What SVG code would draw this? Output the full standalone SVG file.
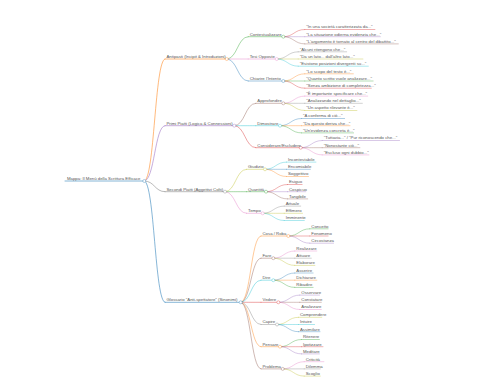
<svg xmlns="http://www.w3.org/2000/svg" width="480" height="384" viewBox="0 0 480 384">
<style>
text{font-family:"Liberation Sans",Arial,sans-serif;font-size:4.3px;fill:#555}
path,line{fill:none;stroke-linecap:round;stroke-opacity:0.6}
circle{fill:#fff;stroke-width:0.5;stroke-opacity:0.7}
.w1{stroke-width:0.9}.w2{stroke-width:0.7}.w3{stroke-width:0.6}
.k0{stroke:#1f77b4}.k1{stroke:#ff7f0e}.k2{stroke:#2ca02c}.k3{stroke:#d62728}.k4{stroke:#9467bd}
.k5{stroke:#8c564b}.k6{stroke:#e377c2}.k7{stroke:#7f7f7f}.k8{stroke:#bcbd22}.k9{stroke:#17becf}
</style>
<rect width="480" height="384" fill="#fff"/>
<g id="connectors">
<path class="k1 w1" d="M144.3 181C154.65 181 154.65 59 165 59"/>
<path class="k4 w1" d="M144.3 181C154.65 181 154.65 125.7 165 125.7"/>
<path class="k7 w1" d="M144.3 181C154.65 181 154.65 191.7 165 191.7"/>
<path class="k0 w1" d="M144.3 181C154.65 181 154.65 302.3 165 302.3"/>
<path class="k2 w2" d="M226.7 59C237.45 59 237.45 36.7 248.2 36.7"/>
<path class="k6 w2" d="M226.7 59C237.45 59 237.45 59 248.2 59"/>
<path class="k0 w2" d="M226.7 59C237.45 59 237.45 81 248.2 81"/>
<path class="k3 w3" d="M283.3 36.7C294.05 36.7 294.05 29.5 304.8 29.5"/>
<path class="k4 w3" d="M283.3 36.7C294.05 36.7 294.05 36.7 304.8 36.7"/>
<path class="k5 w3" d="M283.3 36.7C294.05 36.7 294.05 43.9 304.8 43.9"/>
<path class="k7 w3" d="M276.7 59C287.45 59 287.45 51.8 298.2 51.8"/>
<path class="k8 w3" d="M276.7 59C287.45 59 287.45 59 298.2 59"/>
<path class="k9 w3" d="M276.7 59C287.45 59 287.45 66.2 298.2 66.2"/>
<path class="k1 w3" d="M283.3 81C294.05 81 294.05 73.8 304.8 73.8"/>
<path class="k2 w3" d="M283.3 81C294.05 81 294.05 81 304.8 81"/>
<path class="k3 w3" d="M283.3 81C294.05 81 294.05 88.2 304.8 88.2"/>
<path class="k5 w2" d="M234.3 125.7C245.05 125.7 245.05 103.3 255.8 103.3"/>
<path class="k9 w2" d="M234.3 125.7C245.05 125.7 245.05 125.7 255.8 125.7"/>
<path class="k3 w2" d="M234.3 125.7C245.05 125.7 245.05 147.7 255.8 147.7"/>
<path class="k6 w3" d="M283.3 103.3C294.05 103.3 294.05 96.1 304.8 96.1"/>
<path class="k7 w3" d="M283.3 103.3C294.05 103.3 294.05 103.3 304.8 103.3"/>
<path class="k8 w3" d="M283.3 103.3C294.05 103.3 294.05 110.5 304.8 110.5"/>
<path class="k0 w3" d="M280 125.7C290.75 125.7 290.75 118.5 301.5 118.5"/>
<path class="k1 w3" d="M280 125.7C290.75 125.7 290.75 125.7 301.5 125.7"/>
<path class="k2 w3" d="M280 125.7C290.75 125.7 290.75 132.9 301.5 132.9"/>
<path class="k4 w3" d="M300.7 147.7C311.45 147.7 311.45 140.5 322.2 140.5"/>
<path class="k5 w3" d="M300.7 147.7C311.45 147.7 311.45 147.7 322.2 147.7"/>
<path class="k6 w3" d="M300.7 147.7C311.45 147.7 311.45 154.9 322.2 154.9"/>
<path class="k8 w2" d="M225 191.7C235.75 191.7 235.75 169.3 246.5 169.3"/>
<path class="k2 w2" d="M225 191.7C235.75 191.7 235.75 191.7 246.5 191.7"/>
<path class="k6 w2" d="M225 191.7C235.75 191.7 235.75 213.3 246.5 213.3"/>
<path class="k9 w3" d="M265 169.3C275.75 169.3 275.75 162.1 286.5 162.1"/>
<path class="k0 w3" d="M265 169.3C275.75 169.3 275.75 169.3 286.5 169.3"/>
<path class="k1 w3" d="M265 169.3C275.75 169.3 275.75 176.5 286.5 176.5"/>
<path class="k3 w3" d="M266 191.7C276.75 191.7 276.75 184.5 287.5 184.5"/>
<path class="k4 w3" d="M266 191.7C276.75 191.7 276.75 191.7 287.5 191.7"/>
<path class="k5 w3" d="M266 191.7C276.75 191.7 276.75 198.9 287.5 198.9"/>
<path class="k7 w3" d="M262.7 213.3C273.45 213.3 273.45 206.1 284.2 206.1"/>
<path class="k8 w3" d="M262.7 213.3C273.45 213.3 273.45 213.3 284.2 213.3"/>
<path class="k9 w3" d="M262.7 213.3C273.45 213.3 273.45 220.5 284.2 220.5"/>
<path class="k1 w2" d="M240.7 302.3C250.85 302.3 250.85 236 261 236"/>
<path class="k5 w2" d="M240.7 302.3C250.85 302.3 250.85 258.2 261 258.2"/>
<path class="k9 w2" d="M240.7 302.3C250.85 302.3 250.85 280.2 261 280.2"/>
<path class="k3 w2" d="M240.7 302.3C250.85 302.3 250.85 302.3 261 302.3"/>
<path class="k7 w2" d="M240.7 302.3C250.85 302.3 250.85 324.5 261 324.5"/>
<path class="k1 w2" d="M240.7 302.3C250.85 302.3 250.85 346.7 261 346.7"/>
<path class="k5 w2" d="M240.7 302.3C250.85 302.3 250.85 368.9 261 368.9"/>
<path class="k2 w3" d="M288.3 236C299.05 236 299.05 228.8 309.8 228.8"/>
<path class="k3 w3" d="M288.3 236C299.05 236 299.05 236 309.8 236"/>
<path class="k4 w3" d="M288.3 236C299.05 236 299.05 243.2 309.8 243.2"/>
<path class="k6 w3" d="M273.3 258.2C284.05 258.2 284.05 251 294.8 251"/>
<path class="k7 w3" d="M273.3 258.2C284.05 258.2 284.05 258.2 294.8 258.2"/>
<path class="k8 w3" d="M273.3 258.2C284.05 258.2 284.05 265.4 294.8 265.4"/>
<path class="k0 w3" d="M273.3 280.2C284.05 280.2 284.05 273 294.8 273"/>
<path class="k1 w3" d="M273.3 280.2C284.05 280.2 284.05 280.2 294.8 280.2"/>
<path class="k2 w3" d="M273.3 280.2C284.05 280.2 284.05 287.4 294.8 287.4"/>
<path class="k4 w3" d="M278.3 302.3C289.05 302.3 289.05 295.1 299.8 295.1"/>
<path class="k5 w3" d="M278.3 302.3C289.05 302.3 289.05 302.3 299.8 302.3"/>
<path class="k6 w3" d="M278.3 302.3C289.05 302.3 289.05 309.5 299.8 309.5"/>
<path class="k8 w3" d="M277 324.5C287.75 324.5 287.75 317.3 298.5 317.3"/>
<path class="k9 w3" d="M277 324.5C287.75 324.5 287.75 324.5 298.5 324.5"/>
<path class="k0 w3" d="M277 324.5C287.75 324.5 287.75 331.7 298.5 331.7"/>
<path class="k2 w3" d="M280 346.7C290.75 346.7 290.75 339.5 301.5 339.5"/>
<path class="k3 w3" d="M280 346.7C290.75 346.7 290.75 346.7 301.5 346.7"/>
<path class="k4 w3" d="M280 346.7C290.75 346.7 290.75 353.9 301.5 353.9"/>
<path class="k6 w3" d="M282.7 368.9C293.45 368.9 293.45 361.7 304.2 361.7"/>
<path class="k7 w3" d="M282.7 368.9C293.45 368.9 293.45 368.9 304.2 368.9"/>
<path class="k8 w3" d="M282.7 368.9C293.45 368.9 293.45 376.1 304.2 376.1"/>
</g>
<g id="root"><line class="k0 w1" x1="65" y1="181" x2="144.3" y2="181"/><circle class="k0" cx="144.3" cy="181" r="1.5"/><text x="67" y="179.9">Mappa: Il Menù della Scrittura Efficace</text></g>
<g id="antipasti"><line class="k1 w1" x1="165" y1="59" x2="226.7" y2="59"/><circle class="k1" cx="226.7" cy="59" r="1.5"/><text x="166.5" y="57.9">Antipasti (Incipit &amp; Introduzioni)</text></g>
<g id="contestualizzare"><line class="k2 w2" x1="248.2" y1="36.7" x2="283.3" y2="36.7"/><circle class="k2" cx="283.3" cy="36.7" r="1.5"/><text x="249.7" y="35.6">Contestualizzare</text></g>
<g id="c-l1"><line class="k3 w3" x1="304.8" y1="29.5" x2="374.9" y2="29.5"/><text x="306.3" y="28.4">"In una società caratterizzata da..."</text></g>
<g id="c-l2"><line class="k4 w3" x1="304.8" y1="36.7" x2="380.3" y2="36.7"/><text x="306.3" y="35.6">"La situazione odierna evidenzia che..."</text></g>
<g id="c-l3"><line class="k5 w3" x1="304.8" y1="43.9" x2="398.3" y2="43.9"/><text x="306.3" y="42.8">"L'argomento è tornato al centro del dibattito..."</text></g>
<g id="tesi"><line class="k6 w2" x1="248.2" y1="59" x2="276.7" y2="59"/><circle class="k6" cx="276.7" cy="59" r="1.5"/><text x="249.7" y="57.9">Tesi Opposte</text></g>
<g id="t-l1"><line class="k7 w3" x1="298.2" y1="51.8" x2="346.7" y2="51.8"/><text x="299.7" y="50.7">"Alcuni ritengono che..."</text></g>
<g id="t-l2"><line class="k8 w3" x1="298.2" y1="59" x2="362.9" y2="59"/><text x="299.7" y="57.9">"Da un lato... dall'altro lato..."</text></g>
<g id="t-l3"><line class="k9 w3" x1="298.2" y1="66.2" x2="368.3" y2="66.2"/><text x="299.7" y="65.1">"Esistono posizioni divergenti su..."</text></g>
<g id="chiarire"><line class="k0 w2" x1="248.2" y1="81" x2="283.3" y2="81"/><circle class="k0" cx="283.3" cy="81" r="1.5"/><text x="249.7" y="79.9">Chiarire l'Intento</text></g>
<g id="ch-l1"><line class="k1 w3" x1="304.8" y1="73.8" x2="353.3" y2="73.8"/><text x="306.3" y="72.7">"Lo scopo del testo è..."</text></g>
<g id="ch-l2"><line class="k2 w3" x1="304.8" y1="81" x2="373.1" y2="81"/><text x="306.3" y="79.9">"Quanto scritto vuole analizzare..."</text></g>
<g id="ch-l3"><line class="k3 w3" x1="304.8" y1="88.2" x2="371.3" y2="88.2"/><text x="306.3" y="87.1">"Senza ambizione di completezza..."</text></g>
<g id="primi"><line class="k4 w1" x1="165" y1="125.7" x2="234.3" y2="125.7"/><circle class="k4" cx="234.3" cy="125.7" r="1.5"/><text x="166.5" y="124.6">Primi Piatti (Logica &amp; Connessioni)</text></g>
<g id="approfondire"><line class="k5 w2" x1="255.8" y1="103.3" x2="283.3" y2="103.3"/><circle class="k5" cx="283.3" cy="103.3" r="1.5"/><text x="257.3" y="102.2">Approfondire</text></g>
<g id="ap-l1"><line class="k6 w3" x1="304.8" y1="96.1" x2="367.7" y2="96.1"/><text x="306.3" y="95">"È importante specificare che..."</text></g>
<g id="ap-l2"><line class="k7 w3" x1="304.8" y1="103.3" x2="362.3" y2="103.3"/><text x="306.3" y="102.2">"Analizzando nel dettaglio..."</text></g>
<g id="ap-l3"><line class="k8 w3" x1="304.8" y1="110.5" x2="356.9" y2="110.5"/><text x="306.3" y="109.4">"Un aspetto rilevante è..."</text></g>
<g id="dimostrare"><line class="k9 w2" x1="255.8" y1="125.7" x2="280" y2="125.7"/><circle class="k9" cx="280" cy="125.7" r="1.5"/><text x="257.3" y="124.6">Dimostrare</text></g>
<g id="di-l1"><line class="k0 w3" x1="301.5" y1="118.5" x2="344.6" y2="118.5"/><text x="303" y="117.4">"A conferma di ciò..."</text></g>
<g id="di-l2"><line class="k1 w3" x1="301.5" y1="125.7" x2="350" y2="125.7"/><text x="303" y="124.6">"Da questo deriva che..."</text></g>
<g id="di-l3"><line class="k2 w3" x1="301.5" y1="132.9" x2="353.6" y2="132.9"/><text x="303" y="131.8">"Un'evidenza concreta è..."</text></g>
<g id="considerare"><line class="k3 w2" x1="255.8" y1="147.7" x2="300.7" y2="147.7"/><circle class="k3" cx="300.7" cy="147.7" r="1.5"/><text x="257.3" y="146.6">Considerare/Escludere</text></g>
<g id="co-l1"><line class="k4 w3" x1="322.2" y1="140.5" x2="399.5" y2="140.5"/><text x="323.7" y="139.4">"Tuttavia..." / "Pur riconoscendo che..."</text></g>
<g id="co-l2"><line class="k5 w3" x1="322.2" y1="147.7" x2="359.9" y2="147.7"/><text x="323.7" y="146.6">"Nonostante ciò..."</text></g>
<g id="co-l3"><line class="k6 w3" x1="322.2" y1="154.9" x2="368.9" y2="154.9"/><text x="323.7" y="153.8">"Escluso ogni dubbio..."</text></g>
<g id="secondi"><line class="k7 w1" x1="165" y1="191.7" x2="225" y2="191.7"/><circle class="k7" cx="225" cy="191.7" r="1.5"/><text x="166.5" y="190.6">Secondi Piatti (Aggettivi Colti)</text></g>
<g id="giudizio"><line class="k8 w2" x1="246.5" y1="169.3" x2="265" y2="169.3"/><circle class="k8" cx="265" cy="169.3" r="1.5"/><text x="248" y="168.2">Giudizio</text></g>
<g id="g-l1"><line class="k9 w3" x1="286.5" y1="162.1" x2="315.9" y2="162.1"/><text x="288" y="161">Incontestabile</text></g>
<g id="g-l2"><line class="k0 w3" x1="286.5" y1="169.3" x2="310.4" y2="169.3"/><text x="288" y="168.2">Encomiabile</text></g>
<g id="g-l3"><line class="k1 w3" x1="286.5" y1="176.5" x2="308.5" y2="176.5"/><text x="288" y="175.4">Soggettivo</text></g>
<g id="quantita"><line class="k2 w2" x1="246.5" y1="191.7" x2="266" y2="191.7"/><circle class="k2" cx="266" cy="191.7" r="1.5"/><text x="248" y="190.6">Quantità</text></g>
<g id="q-l1"><line class="k3 w3" x1="287.5" y1="184.5" x2="302.1" y2="184.5"/><text x="289" y="183.4">Esiguo</text></g>
<g id="q-l2"><line class="k4 w3" x1="287.5" y1="191.7" x2="305.8" y2="191.7"/><text x="289" y="190.6">Cospicuo</text></g>
<g id="q-l3"><line class="k5 w3" x1="287.5" y1="198.9" x2="307.7" y2="198.9"/><text x="289" y="197.8">Tangibile</text></g>
<g id="tempo"><line class="k6 w2" x1="246.5" y1="213.3" x2="262.7" y2="213.3"/><circle class="k6" cx="262.7" cy="213.3" r="1.5"/><text x="248" y="212.2">Tempo</text></g>
<g id="te-l1"><line class="k7 w3" x1="284.2" y1="206.1" x2="300.7" y2="206.1"/><text x="285.7" y="205">Attuale</text></g>
<g id="te-l2"><line class="k8 w3" x1="284.2" y1="213.3" x2="302.5" y2="213.3"/><text x="285.7" y="212.2">Effimero</text></g>
<g id="te-l3"><line class="k9 w3" x1="284.2" y1="220.5" x2="304.3" y2="220.5"/><text x="285.7" y="219.4">Imminente</text></g>
<g id="glossario"><line class="k0 w1" x1="165" y1="302.3" x2="240.7" y2="302.3"/><circle class="k0" cx="240.7" cy="302.3" r="1.5"/><text x="166.5" y="301.2">Glossario "Anti-spettatore" (Sinonimi)</text></g>
<g id="cosa"><line class="k1 w2" x1="261" y1="236" x2="288.3" y2="236"/><circle class="k1" cx="288.3" cy="236" r="1.5"/><text x="262.5" y="234.9">Cosa / Roba</text></g>
<g id="cs-l1"><line class="k2 w3" x1="309.8" y1="228.8" x2="328.1" y2="228.8"/><text x="311.3" y="227.7">Concetto</text></g>
<g id="cs-l2"><line class="k3 w3" x1="309.8" y1="236" x2="328.1" y2="236"/><text x="311.3" y="234.9">Fenomeno</text></g>
<g id="cs-l3"><line class="k4 w3" x1="309.8" y1="243.2" x2="333.6" y2="243.2"/><text x="311.3" y="242.1">Circostanza</text></g>
<g id="fare"><line class="k5 w2" x1="261" y1="258.2" x2="273.3" y2="258.2"/><circle class="k5" cx="273.3" cy="258.2" r="1.5"/><text x="262.5" y="257.1">Fare</text></g>
<g id="f-l1"><line class="k6 w3" x1="294.8" y1="251" x2="316.8" y2="251"/><text x="296.3" y="249.9">Realizzare</text></g>
<g id="f-l2"><line class="k7 w3" x1="294.8" y1="258.2" x2="311.3" y2="258.2"/><text x="296.3" y="257.1">Attuare</text></g>
<g id="f-l3"><line class="k8 w3" x1="294.8" y1="265.4" x2="314.9" y2="265.4"/><text x="296.3" y="264.3">Elaborare</text></g>
<g id="dire"><line class="k9 w2" x1="261" y1="280.2" x2="273.3" y2="280.2"/><circle class="k9" cx="273.3" cy="280.2" r="1.5"/><text x="262.5" y="279.1">Dire</text></g>
<g id="d-l1"><line class="k0 w3" x1="294.8" y1="273" x2="313.1" y2="273"/><text x="296.3" y="271.9">Asserire</text></g>
<g id="d-l2"><line class="k1 w3" x1="294.8" y1="280.2" x2="316.8" y2="280.2"/><text x="296.3" y="279.1">Dichiarare</text></g>
<g id="d-l3"><line class="k2 w3" x1="294.8" y1="287.4" x2="313.1" y2="287.4"/><text x="296.3" y="286.3">Ribadire</text></g>
<g id="vedere"><line class="k3 w2" x1="261" y1="302.3" x2="278.3" y2="302.3"/><circle class="k3" cx="278.3" cy="302.3" r="1.5"/><text x="262.5" y="301.2">Vedere</text></g>
<g id="v-l1"><line class="k4 w3" x1="299.8" y1="295.1" x2="319.5" y2="295.1"/><text x="301.3" y="294">Osservare</text></g>
<g id="v-l2"><line class="k5 w3" x1="299.8" y1="302.3" x2="321.3" y2="302.3"/><text x="301.3" y="301.2">Constatare</text></g>
<g id="v-l3"><line class="k6 w3" x1="299.8" y1="309.5" x2="321.3" y2="309.5"/><text x="301.3" y="308.4">Analizzare</text></g>
<g id="capire"><line class="k7 w2" x1="261" y1="324.5" x2="277" y2="324.5"/><circle class="k7" cx="277" cy="324.5" r="1.5"/><text x="262.5" y="323.4">Capire</text></g>
<g id="ca-l1"><line class="k8 w3" x1="298.5" y1="317.3" x2="321.8" y2="317.3"/><text x="300" y="316.2">Comprendere</text></g>
<g id="ca-l2"><line class="k9 w3" x1="298.5" y1="324.5" x2="314.6" y2="324.5"/><text x="300" y="323.4">Intuire</text></g>
<g id="ca-l3"><line class="k0 w3" x1="298.5" y1="331.7" x2="320" y2="331.7"/><text x="300" y="330.6">Assimilare</text></g>
<g id="pensare"><line class="k1 w2" x1="261" y1="346.7" x2="280" y2="346.7"/><circle class="k1" cx="280" cy="346.7" r="1.5"/><text x="262.5" y="345.6">Pensare</text></g>
<g id="p-l1"><line class="k2 w3" x1="301.5" y1="339.5" x2="319.4" y2="339.5"/><text x="303" y="338.4">Ritenere</text></g>
<g id="p-l2"><line class="k3 w3" x1="301.5" y1="346.7" x2="323" y2="346.7"/><text x="303" y="345.6">Ipotizzare</text></g>
<g id="p-l3"><line class="k4 w3" x1="301.5" y1="353.9" x2="319.4" y2="353.9"/><text x="303" y="352.8">Meditare</text></g>
<g id="problema"><line class="k5 w2" x1="261" y1="368.9" x2="282.7" y2="368.9"/><circle class="k5" cx="282.7" cy="368.9" r="1.5"/><text x="262.5" y="367.8">Problema</text></g>
<g id="pr-l1"><line class="k6 w3" x1="304.2" y1="361.7" x2="323.9" y2="361.7"/><text x="305.7" y="360.6">Criticità</text></g>
<g id="pr-l2"><line class="k7 w3" x1="304.2" y1="368.9" x2="320.3" y2="368.9"/><text x="305.7" y="367.8">Dilemma</text></g>
<g id="pr-l3"><line class="k8 w3" x1="304.2" y1="376.1" x2="320.3" y2="376.1"/><text x="305.7" y="375">Scoglio</text></g>
</svg>
